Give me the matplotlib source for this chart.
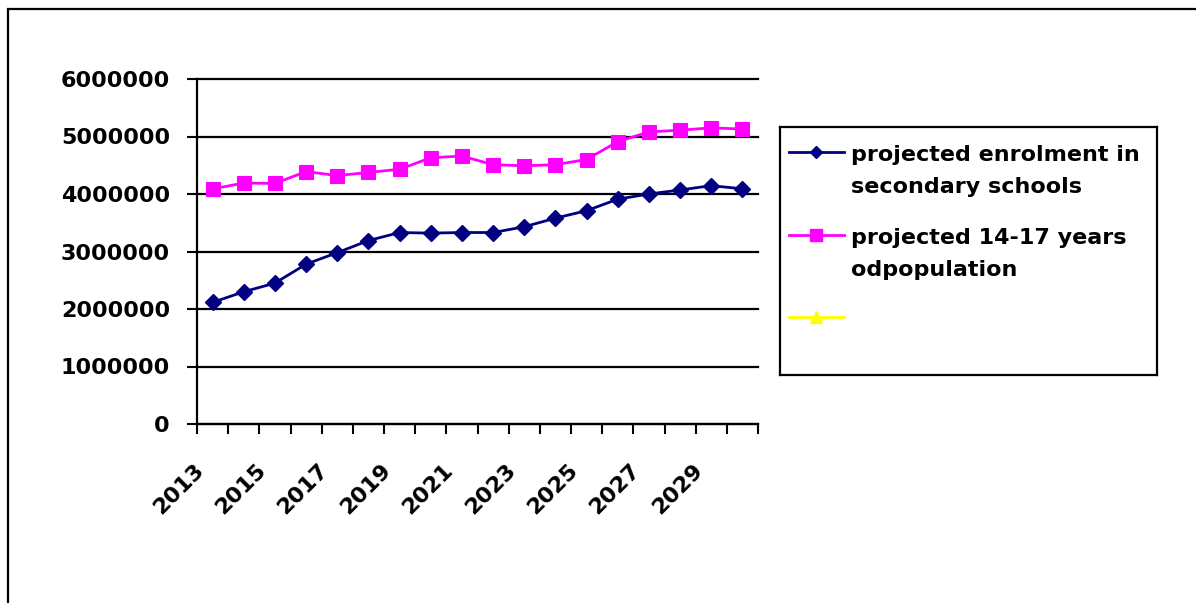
import numpy as np
import matplotlib
matplotlib.use("Agg")
import matplotlib.pyplot as plt
import matplotlib.transforms as mtransforms
from matplotlib.patches import Rectangle

# ---- data -------------------------------------------------------------
years = [2013, 2014, 2015, 2016, 2017, 2018, 2019, 2020, 2021,
         2022, 2023, 2024, 2025, 2026, 2027, 2028, 2029, 2030]

enrolment = [2115000, 2300000, 2450000, 2780000, 2980000, 3190000,
             3330000, 3320000, 3330000, 3330000, 3430000, 3580000,
             3710000, 3910000, 4000000, 4070000, 4145000, 4090000]

population = [4090000, 4190000, 4185000, 4390000, 4320000, 4375000,
              4430000, 4630000, 4660000, 4510000, 4490000, 4510000,
              4600000, 4910000, 5080000, 5110000, 5150000, 5130000]

third_series = []  # empty series, only shown in the legend

series_labels = ["projected enrolment in\nsecondary schools",
                 "projected 14-17 years\nodpopulation",
                 ""]

x_tick_labels = ["2013", "2015", "2017", "2019", "2021",
                 "2023", "2025", "2027", "2029"]
y_ticks = [0, 1000000, 2000000, 3000000, 4000000, 5000000, 6000000]
y_tick_labels = ["0", "1000000", "2000000", "3000000",
                 "4000000", "5000000", "6000000"]

# ---- figure -----------------------------------------------------------
W, H = 1196, 603
fig = plt.figure(figsize=(W / 100, H / 100), dpi=100)
fig.patch.set_facecolor("white")
plt.rcParams["font.family"] = ["DejaVu Sans"]
FS = 16

# outer chart frame (runs off the right and bottom edges)
fig.add_artist(Rectangle((7.5 / W, -0.2), 1.5, 1 - 8.5 / H + 0.2,
                         transform=fig.transFigure, fill=False,
                         edgecolor="black", lw=1.6))

ax = fig.add_axes([197 / W, 1 - 424 / H, (758 - 197) / W, (424 - 79) / H])
ax.set_facecolor("white")

x = np.arange(len(years))
ax.plot(x, enrolment, color="#000080", lw=2.0, marker="D", ms=8,
        mfc="#000080", mec="#000080", mew=1, zorder=4, clip_on=False)
ax.plot(x, population, color="#FF00FF", lw=2.0, marker="s", ms=10,
        mfc="#FF00FF", mec="#FF00FF", mew=0.8, zorder=4, clip_on=False)
ax.plot(third_series, third_series, color="#FFFF00", lw=2.0, marker="^")

ax.set_xlim(-0.5, len(years) - 0.5)
ax.set_ylim(0, 6000000)

for side in ("top", "right"):
    ax.spines[side].set_visible(False)
for side in ("left", "bottom"):
    ax.spines[side].set_linewidth(1.6)
    ax.spines[side].set_color("black")

ax.set_yticks(y_ticks)
ax.set_yticklabels(y_tick_labels, fontsize=FS, fontweight="bold")
ax.tick_params(axis="y", length=7.5, width=1.5, direction="out", pad=12)
ax.yaxis.grid(True, color="black", lw=1.6)
for gl in ax.get_ygridlines():
    gl.set_clip_on(False)
ax.set_axisbelow(True)

# category boundary ticks
ax.set_xticks(np.arange(-0.5, len(years), 1), minor=True)
ax.tick_params(axis="x", which="minor", length=7, width=1.5, direction="out")
label_pos = [years.index(int(t)) for t in x_tick_labels]
ax.set_xticks(label_pos)
ax.set_xticklabels(x_tick_labels, rotation=45, ha="right", va="top",
                   rotation_mode="anchor", fontsize=FS, fontweight="bold")
ax.tick_params(axis="x", which="major", length=0, pad=0)
shift = mtransforms.ScaledTranslation(-19 / 100, -36 / 100, fig.dpi_scale_trans)
for lab in ax.get_xticklabels():
    lab.set_transform(lab.get_transform() + shift)

# ---- legend -----------------------------------------------------------
lax = fig.add_axes([780 / W, 1 - 375 / H, 377 / W, 248 / H])
lax.set_xlim(0, 377)
lax.set_ylim(248, 0)
lax.set_xticks([])
lax.set_yticks([])
for s in lax.spines.values():
    s.set_linewidth(1.6)
    s.set_color("black")

entries = [
    ("#000080", "D", 6.5, 25, [28, 60]),
    ("#FF00FF", "s", 8.5, 108, [111, 143]),
    ("#FFFF00", "^", 9, 190, [193]),
]
for (color, mk, ms, ym, ys), label in zip(entries, series_labels):
    lax.plot([9, 64], [ym, ym], color=color, lw=2.0)
    lax.plot([36], [ym], marker=mk, ms=ms, color=color, mec=color)
    for line, yt in zip(label.split("\n"), ys):
        lax.text(71, yt, line, fontsize=FS, fontweight="bold",
                 va="center", ha="left")

fig.savefig("out.png", dpi=100, facecolor="white")
